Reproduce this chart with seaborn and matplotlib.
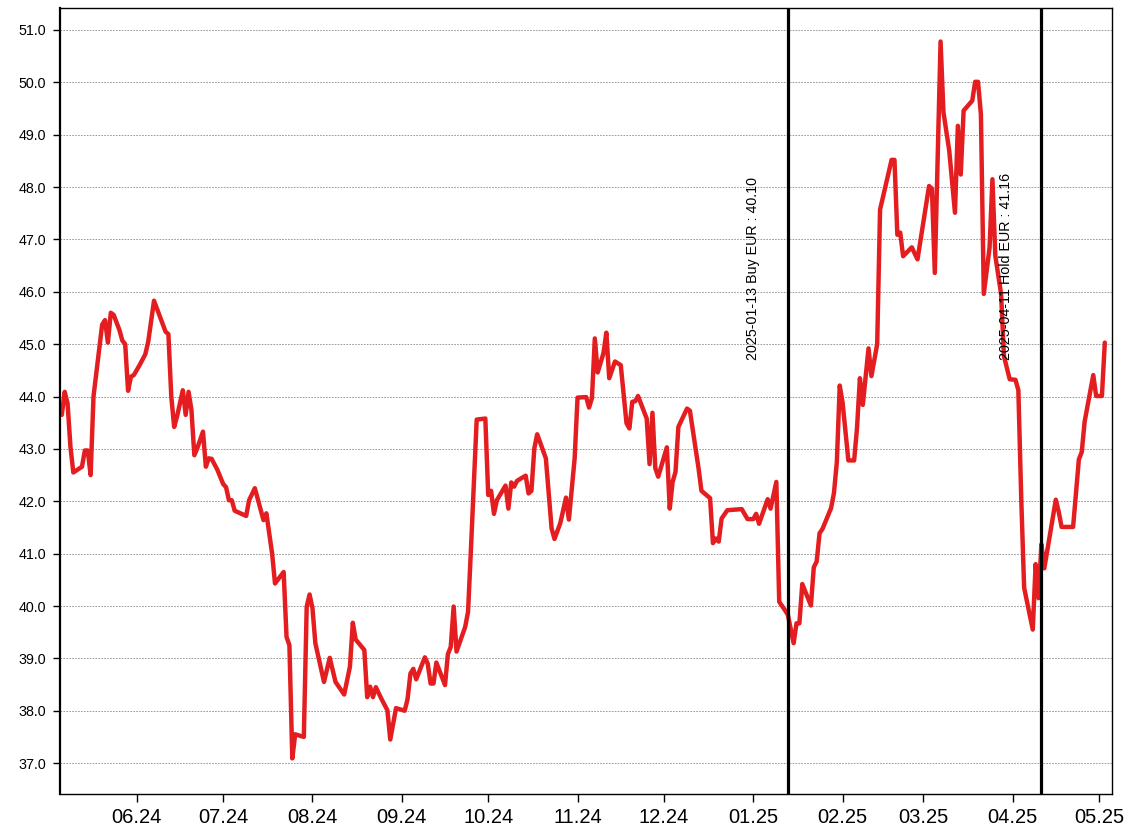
import pandas as pd
import numpy as np
import matplotlib
matplotlib.use('Agg')
import matplotlib.pyplot as plt
import matplotlib.dates as mdates
import seaborn as sns

# closing prices: trading day offset from 2024-05-06 and price in EUR
start_date = '2024-05-06'
days_from_start = [
    0, 1, 2, 3, 4, 7, 8, 9, 10, 11, 14, 15, 16, 17, 18, 20, 21, 22, 23, 24,
    25, 27, 29, 30, 32, 36, 37, 38, 39, 40, 41, 42, 43, 44, 45, 46, 47, 49, 50, 51,
    52, 54, 56, 57, 58, 59, 60, 64, 65, 67, 70, 71, 73, 74, 77, 78, 79, 80, 81, 84,
    85, 86, 87, 88, 91, 93, 95, 98, 100, 101, 102, 105, 106, 107, 108, 109, 111, 113, 114, 116,
    119, 120, 121, 122, 123, 126, 127, 128, 129, 130, 133, 134, 135, 136, 137, 140, 141, 142, 144, 147,
    148, 149, 150, 151, 154, 155, 156, 157, 158, 161, 162, 163, 164, 165, 168, 170, 171, 173, 175, 176,
    178, 179, 182, 183, 184, 185, 186, 188, 189, 190, 192, 194, 196, 197, 198, 199, 200, 203, 204, 205,
    206, 207, 210, 211, 212, 213, 214, 217, 218, 221, 222, 225, 226, 227, 228, 229, 231, 236, 238, 240,
    241, 242, 245, 246, 248, 249, 251, 252, 254, 255, 256, 257, 260, 261, 262, 263, 264, 267, 268, 269,
    270, 271, 273, 275, 276, 277, 278, 280, 281, 283, 284, 288, 289, 290, 291, 292, 295, 297, 301, 302,
    303, 305, 306, 308, 310, 311, 312, 313, 316, 317, 318, 319, 320, 322, 323, 324, 326, 327, 329, 331,
    332, 333, 334, 337, 338, 339, 340, 341, 345, 346, 347, 351, 353, 354, 355, 358, 359, 361, 362,
]
prices = [
    43.65, 44.09, 43.87, 43.04, 42.55, 42.66, 42.97, 42.97, 42.50, 44.00, 45.37, 45.46, 45.03, 45.60, 45.56, 45.27, 45.07, 45.00, 44.11, 44.38,
    44.41, 44.60, 44.81, 45.05, 45.83, 45.24, 45.19, 44.00, 43.42, 43.62, 43.87, 44.12, 43.65, 44.09, 43.74, 42.88, 43.01, 43.33, 42.66, 42.82,
    42.81, 42.60, 42.33, 42.27, 42.02, 42.02, 41.82, 41.72, 42.02, 42.25, 41.64, 41.77, 41.00, 40.43, 40.65, 39.41, 39.25, 37.09, 37.55, 37.50,
    39.99, 40.22, 39.96, 39.29, 38.55, 39.01, 38.55, 38.31, 38.84, 39.68, 39.36, 39.16, 38.26, 38.46, 38.26, 38.45, 38.22, 38.01, 37.45, 38.05,
    38.00, 38.22, 38.71, 38.80, 38.60, 39.02, 38.90, 38.52, 38.52, 38.92, 38.49, 39.08, 39.22, 39.99, 39.13, 39.60, 39.89, 41.08, 43.56, 43.58,
    42.12, 42.20, 41.76, 42.02, 42.30, 41.86, 42.36, 42.28, 42.39, 42.49, 42.15, 42.20, 43.01, 43.28, 42.82, 41.48, 41.28, 41.58, 42.07, 41.65,
    42.82, 43.98, 43.99, 43.79, 43.97, 45.11, 44.46, 44.83, 45.22, 44.35, 44.67, 44.60, 43.49, 43.39, 43.90, 43.91, 44.01, 43.58, 42.71, 43.69,
    42.63, 42.47, 43.03, 41.86, 42.37, 42.56, 43.42, 43.77, 43.73, 42.63, 42.20, 42.06, 41.20, 41.29, 41.23, 41.67, 41.83, 41.85, 41.66, 41.66,
    41.76, 41.57, 42.04, 41.86, 42.37, 40.08, 39.92, 39.83, 39.29, 39.67, 39.67, 40.42, 40.01, 40.74, 40.85, 41.39, 41.47, 41.87, 42.16, 42.75,
    44.21, 43.88, 42.78, 42.78, 43.40, 44.35, 43.84, 44.92, 44.39, 45.00, 47.57, 48.52, 48.52, 47.09, 47.13, 46.68, 46.85, 46.62, 48.02, 47.97,
    46.36, 50.78, 49.43, 48.70, 47.51, 49.17, 48.24, 49.46, 49.65, 50.01, 50.01, 49.39, 45.96, 46.84, 48.15, 46.69, 45.96, 44.77, 44.33, 44.32,
    44.12, 42.05, 40.35, 39.55, 40.80, 40.15, 41.18, 40.72, 42.03, 41.80, 41.51, 41.51, 42.80, 42.94, 43.52, 44.41, 44.01, 44.01, 45.03,
]

# trade signals
signal_dates = ['2025-01-13', '2025-04-11']
signal_labels = ['2025-01-13 Buy EUR : 40.10', '2025-04-11 Hold EUR : 41.16']

dates = pd.Timestamp(start_date) + pd.to_timedelta(days_from_start, unit='D')
df = pd.DataFrame({'date': dates, 'price': prices})

sns.set_style('ticks')
plt.rcParams['font.family'] = ['Liberation Sans', 'DejaVu Sans']

fig = plt.figure(figsize=(11.28, 8.36), dpi=100)
ax = fig.add_axes([60 / 1128, 42 / 836, 1052 / 1128, 786 / 836])

sns.lineplot(data=df, x='date', y='price', ax=ax, color='#e41e20', linewidth=3.2)

for d, label in zip(signal_dates, signal_labels):
    d = pd.Timestamp(d)
    ax.axvline(d, color='black', linewidth=2.3)
    ax.text(d - pd.Timedelta(days=12.2), 44.7, label, rotation=90,
            ha='center', va='bottom', fontsize=10.3, color='black')

ax.set_xlim(pd.Timestamp('2024-05-05 09:00'), pd.Timestamp('2025-05-05 12:00'))
ax.set_ylim(36.41, 51.42)
ax.set_yticks(np.arange(37, 52, 1.0))
ax.yaxis.set_major_formatter(matplotlib.ticker.FormatStrFormatter('%.1f'))
ax.xaxis.set_major_locator(mdates.MonthLocator())
ax.xaxis.set_major_formatter(mdates.DateFormatter('%m.%y'))

ax.grid(axis='y', color='#8c8c8c', linestyle=(0, (2, 1.5)), linewidth=0.6)
ax.set_axisbelow(True)
ax.set_xlabel('')
ax.set_ylabel('')
ax.tick_params(axis='y', labelsize=10.3, length=5, width=1, pad=5,
               colors='black', labelcolor='black')
ax.tick_params(axis='x', labelsize=14.5, length=6, width=1, pad=4,
               colors='black', labelcolor='black')

for side in ['top', 'right', 'bottom']:
    ax.spines[side].set_color('black')
    ax.spines[side].set_linewidth(1.0)
ax.spines['left'].set_color('black')
ax.spines['left'].set_linewidth(1.6)

plt.savefig('out.png', dpi=100)
plt.close()
